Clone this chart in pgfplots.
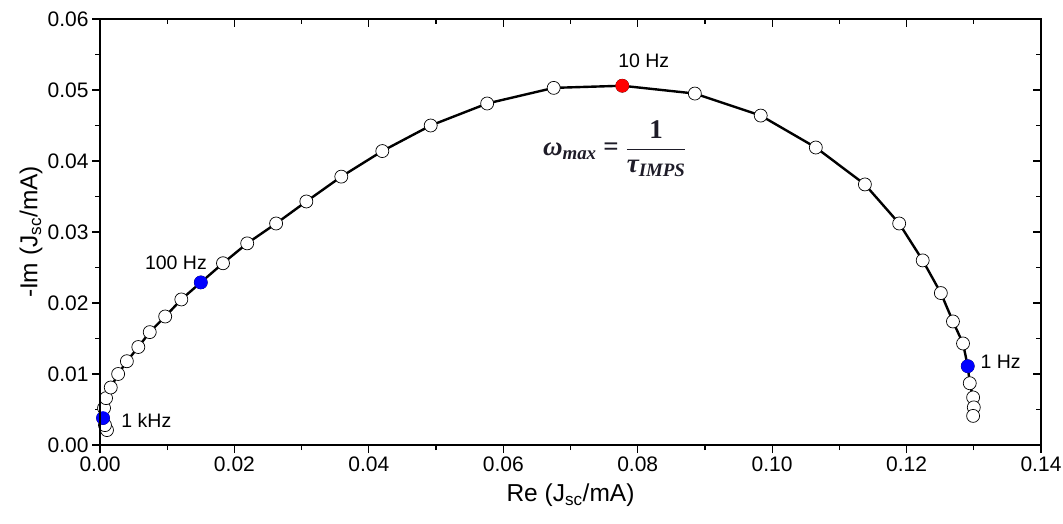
\documentclass[border=0pt]{standalone}
\usepackage{pgfplots}
\pgfplotsset{compat=1.18}
\usepackage{amsmath}
\usepackage{fontspec}
\setmainfont{Liberation Sans}
\newfontfamily\eqfont{Liberation Serif}
\definecolor{fblue}{RGB}{0,0,255}
\definecolor{fred}{RGB}{255,0,0}
\definecolor{eqcol}{RGB}{30,28,40}
\begin{document}
\begin{tikzpicture}
\useasboundingbox (-100pt,-78pt) rectangle (963pt,445pt);
\pgfplotsset{
  base/.style={
    scale only axis, width=941pt, height=426pt,
    at={(0pt,0pt)}, anchor=south west,
    xmin=0, xmax=0.14, ymin=0, ymax=0.06,
    xtick={0,0.02,...,0.14}, ytick={0,0.01,...,0.06},
    minor x tick num=1, minor y tick num=1,
    scaled x ticks=false, scaled y ticks=false,
    axis line style={line width=1.6pt},
    major tick style={line width=1.2pt, black},
    minor tick style={line width=1.2pt, black},
    major tick length=8pt, minor tick length=5pt,
    clip=false,
  }
}
\begin{axis}[base,
  xtick pos=bottom, ytick pos=left, tick align=outside,
  /pgf/number format/assume math mode=true,
  xticklabel style={/pgf/number format/.cd, fixed, fixed zerofill, precision=2},
  yticklabel style={/pgf/number format/.cd, fixed, fixed zerofill, precision=2},
  tick label style={font=\fontsize{21}{24}\selectfont},
  xlabel={Re (J\textsubscript{sc}/mA)},
  ylabel={-Im (J\textsubscript{sc}/mA)},
  label style={font=\fontsize{24.5}{28}\selectfont},
  xlabel style={at={(axis description cs:0.5,0)}, anchor=center, yshift=-50pt},
  ylabel style={at={(axis description cs:0,0.5)}, anchor=center, yshift=69pt},
]
\addplot[black, line width=2.4pt, mark=*, mark size=6.5pt,
  mark options={fill=white, draw=black, line width=0.7pt}] coordinates {
(0.00104,0.0021) (0.00074,0.0028) (0.00045,0.0038) (0.0006,0.0052)
(0.0009,0.0066) (0.0016,0.0081) (0.0027,0.0100) (0.0040,0.0118)
(0.0057,0.0138) (0.0074,0.0159) (0.0097,0.0181) (0.0121,0.0205)
(0.0150,0.0229) (0.0183,0.0256) (0.0219,0.0284) (0.0262,0.0312)
(0.0307,0.0343) (0.0359,0.0378) (0.0420,0.0414) (0.0492,0.0450)
(0.0576,0.0481) (0.0675,0.0503) (0.0777,0.0506) (0.0885,0.0495)
(0.0983,0.0464) (0.1065,0.0419) (0.1138,0.0367) (0.1189,0.0312)
(0.1224,0.0260) (0.1251,0.0214) (0.1269,0.0174) (0.1284,0.0143)
(0.1291,0.0111) (0.1294,0.0087) (0.1299,0.0067) (0.1300,0.0053)
(0.1299,0.0041)
};
\addplot[only marks, mark=*, mark size=6.5pt, mark options={fill=fblue, draw=fblue}] coordinates {
(0.00045,0.0038) (0.0150,0.0229) (0.1291,0.0111)
};
\addplot[only marks, mark=*, mark size=6.5pt, mark options={fill=fred, draw=fred}] coordinates {
(0.0777,0.0506)
};
\node[font=\fontsize{19.5}{22}\selectfont] at (axis cs:0.0809,0.0541) {10 Hz};
\node[font=\fontsize{19.5}{22}\selectfont] at (axis cs:0.0113,0.0257) {100 Hz};
\node[font=\fontsize{19.5}{22}\selectfont] at (axis cs:0.0069,0.0034) {1 kHz};
\node[font=\fontsize{19.5}{22}\selectfont] at (axis cs:0.1340,0.0117) {1 Hz};
\node[font=\fontsize{27}{30}\selectfont, text=eqcol] at (axis cs:0.0766,0.0417)
  {\eqfont\bfseries\itshape ω\textsubscript{max} \upshape= $\dfrac{\text{\eqfont\bfseries 1}}{\text{\eqfont\bfseries\itshape τ\textsubscript{IMPS}}}$};
\end{axis}
\begin{axis}[base,
  xtick pos=top, ytick pos=right, tick align=inside,
  xticklabels={}, yticklabels={},
]
\end{axis}
\end{tikzpicture}
\end{document}
